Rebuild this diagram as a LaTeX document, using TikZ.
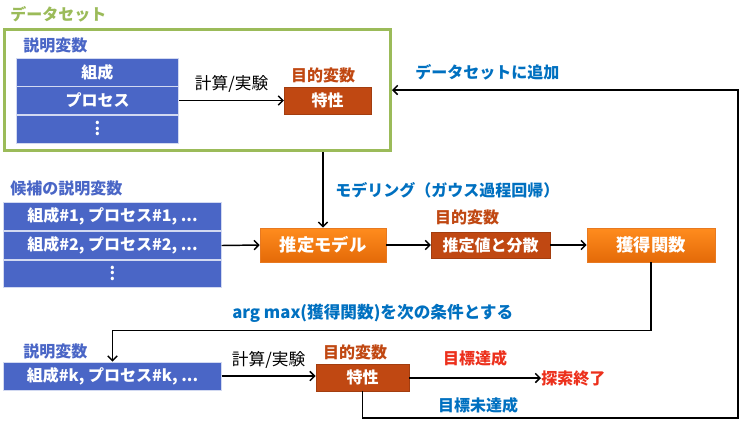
\documentclass[tikz,border=0pt]{standalone}
\usepackage{fontspec}
\setmainfont{Noto Sans CJK JP}
\usetikzlibrary{arrows.meta,shadows}

\definecolor{boxblue}{RGB}{74,102,198}
\definecolor{textblue}{RGB}{0,112,192}
\definecolor{setgreen}{RGB}{155,187,89}
\definecolor{brown}{RGB}{192,72,18}
\definecolor{orangetop}{RGB}{255,140,30}
\definecolor{orangebot}{RGB}{228,106,8}
\definecolor{goalred}{RGB}{236,48,28}

\newcommand{\rowdots}{\smash{\raisebox{-4.5pt}{$\vdots$}}}

\tikzset{
	big/.style={font=\bfseries\fontsize{12}{14}\selectfont},
	row/.style={big, fill=boxblue, draw=white!75!boxblue, line width=0.6pt, text=white, inner sep=0pt},
	brownbox/.style={big, fill=brown, draw=brown!85!black, line width=0.4pt, text=white, inner sep=0pt},
	orangebox/.style={font=\bfseries\fontsize{13}{15}\selectfont, top color=orangetop, bottom color=orangebot, draw=orangebot!90!white, text=white, inner sep=0pt, drop shadow={shadow xshift=1pt, shadow yshift=-1pt, opacity=0.35}},
	caption/.style={big, inner sep=0pt},
	flow/.style={line width=1.1pt, -{Straight Barb[length=3.5pt,width=7pt,line width=1.1pt]}},
	line/.style={line width=1.1pt}
}

\begin{document}
\begin{tikzpicture}[x=0.75pt, y=-0.75pt]

	% Frame
	\useasboundingbox (0,0) rectangle (740,426);

	% Dataset
	\node[caption, text=setgreen, anchor=west] (settitle) at (10,14) {データセット};
	\node[draw=setgreen, line width=2.25pt, minimum width=289.5pt, minimum height=90.75pt, inner sep=0pt] (dataset) at (197.5,90) {};
	\node[caption, text=boxblue, anchor=west] (xlab) at (23,45) {説明変数};
	\node[row, minimum width=122pt, minimum height=20.5pt] (comp) at (97.5,72.5) {組成};
	\node[row, minimum width=122pt, minimum height=20.5pt] (proc) at (97.5,100.5) {プロセス};
	\node[row, minimum width=122pt, minimum height=20.5pt] (xdots) at (97.5,129.5) {\rowdots};
	\node[caption, text=brown] (ylab) at (323,75) {目的変数};
	\node[brownbox, minimum width=65pt, minimum height=20.3pt] (prop) at (327.5,100.5) {特性};
	\draw[flow] (proc.east) -- node[above=2pt, font=\fontsize{12.5}{14}\selectfont]{計算/実験} (prop.west);

	% Candidates
	\node[caption, text=boxblue, anchor=west] (candlab) at (10,188) {候補の説明変数};
	\node[row, minimum width=163pt, minimum height=20.5pt] (cand1) at (112.5,216.5) {組成\#1, プロセス\#1, ...};
	\node[row, minimum width=163pt, minimum height=20.5pt] (cand2) at (112.5,245.5) {組成\#2, プロセス\#2, ...};
	\node[row, minimum width=163pt, minimum height=20.5pt] (cand3) at (112.5,274) {\rowdots};

	% Model
	\node[orangebox, minimum width=94.5pt, minimum height=25.5pt] (model) at (323,245) {推定モデル};
	\node[caption, text=brown] (ylab2) at (467,217) {目的変数};
	\node[brownbox, minimum width=89pt, minimum height=19.5pt] (est) at (490.5,245) {推定値と分散};
	\node[orangebox, minimum width=96pt, minimum height=25.5pt] (acq) at (651,245) {獲得関数};
	\node[caption, text=textblue, anchor=west] (modlab) at (335,190) {モデリング（ガウス過程回帰）};
	\draw[flow] (model.north |- dataset.south) -- (model.north);
	\draw[flow] (cand2.east) -- (model.west);
	\draw[flow] (model.east) -- (est.west);
	\draw[flow] (est.east) -- (acq.west);

	% Next condition
	\node[caption, text=textblue, anchor=west, font=\bfseries\fontsize{12.5}{14}\selectfont] (argmax) at (232,313) {arg max(獲得関数)を次の条件とする};
	\node[caption, text=boxblue, anchor=west] (xlab2) at (23,351) {説明変数};
	\node[row, minimum width=163pt, minimum height=21pt] (candk) at (112.5,376) {組成\#k, プロセス\#k, ...};
	\draw[flow] (acq.south) -- ++(0,68) -| (candk.north);
	\node[caption, text=brown] (ylab3) at (355,352) {目的変数};
	\node[brownbox, minimum width=70pt, minimum height=20.3pt] (propk) at (362.5,377.5) {特性};
	\draw[flow] (candk.east) -- node[above=2pt, font=\fontsize{12.5}{14}\selectfont]{計算/実験} (candk.east -| propk.west);

	% Goal
	\node[caption, text=goalred, anchor=west] (fin) at (541,378) {探索終了};
	\draw[flow] (propk.east |- fin.west) -- node[above=8pt, caption, text=goalred]{目標達成} (fin.west);
	\coordinate (fbR) at (738,418);
	\coordinate (fbT) at (738,90);
	\node[caption, text=textblue] (miss) at (478,405) {目標未達成};
	\node[caption, text=textblue, anchor=west] (addlab) at (415,72) {データセットに追加};
	\draw[flow] (propk.south) |- (fbR) -- (fbT) -- (dataset.east);

\end{tikzpicture}
\end{document}
